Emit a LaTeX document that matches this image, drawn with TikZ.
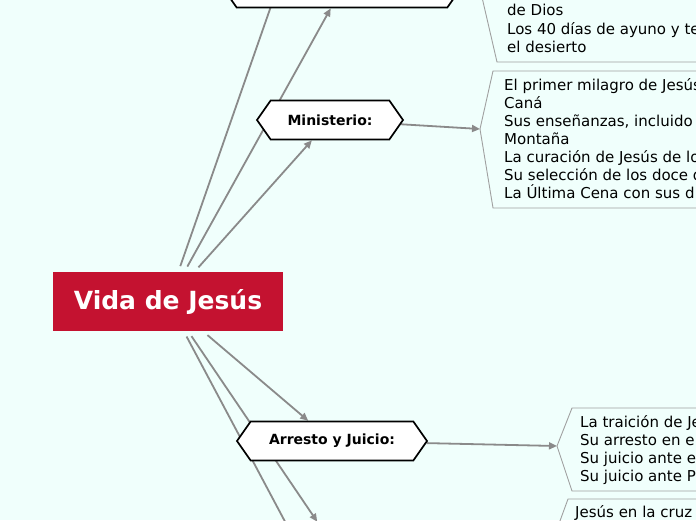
\documentclass[tikz,border=0pt]{standalone}
\usepackage{fontspec}
\setmainfont{DejaVu Sans}
\usetikzlibrary{arrows.meta, shapes.symbols}
\definecolor{MapBack}{RGB}{240, 255, 252}
\definecolor{CoreRed}{RGB}{196, 18, 48}
\definecolor{LinkGrey}{RGB}{138, 138, 138}
\definecolor{FrameGrey}{RGB}{160, 160, 160}
\pgfdeclarelayer{canvas}
\pgfdeclarelayer{links}
\pgfsetlayers{canvas,links,main}

\begin{document}
\begin{tikzpicture}[x=1pt, y=-1pt, >={Triangle[length=8pt, width=7pt]},
    core/.style={fill=CoreRed, text=white, font=\fontsize{25}{30}\selectfont\bfseries, minimum width=230pt, minimum height=59pt, inner sep=0pt},
    hexa/.style={shape=signal, signal to=west and east, signal pointer angle=110, draw=black, line width=1.7pt, fill=white, font=\fontsize{14}{17}\selectfont\bfseries, minimum height=39pt, inner sep=0pt},
    spoke/.style={draw=LinkGrey, line width=1.8pt, shorten <=6pt},
    link/.style={draw=LinkGrey, line width=1.8pt},
    note/.style={align=left, anchor=north west, inner sep=0pt, font=\fontsize{15}{18}\selectfont, execute at begin node=\strut},
    frame/.style={draw=FrameGrey, line width=0.9pt}
  ]
  \useasboundingbox (0,0) rectangle (696,520);
  \begin{pgfonlayer}{canvas}
    \fill[MapBack] (0,0) rectangle (696,520);
  \end{pgfonlayer}

  % centre and branches
  \node[core] (vida) at (168,301.5) {Vida de Jesús};
  \node[hexa, minimum width=238pt] (topHex) at (342,-12) {};
  \node[hexa, minimum width=146pt] (minHex) at (330,120) {Ministerio:};
  \node[hexa, minimum width=190pt] (arrHex) at (332,441) {Arresto y Juicio:};
  \node[hexa, minimum width=190pt] (cruzHex) at (331,542) {};
  \coordinate (upEnd) at (322,-140);
  \coordinate (downEnd) at (348,640);

  % note boxes
  \coordinate (topTip) at (478,-20);
  \coordinate (minTip) at (480,129);
  \coordinate (arrTip) at (557,446);
  \coordinate (cruzTip) at (553,540);
  \draw[frame] (720,62) -- (497,62) -- (topTip);
  \draw[frame] (720,71) -- (493,71) -- (minTip) -- (493,208) -- (720,208);
  \draw[frame] (720,408) -- (572,408) -- (arrTip) -- (572,491) -- (720,491);
  \draw[frame] (720,499) -- (568,499) -- (cruzTip);

  \node[note] (topNote) at (507,4.4) {de Dios\\Los 40 días de ayuno y te\\el desierto};
  \node[note] (minNote) at (504,77.9) {El primer milagro de Jesús\\Caná\\Sus enseñanzas, incluido\\Montaña\\La curación de Jesús de los\\Su selección de los doce d\\La Última Cena con sus d};
  \node[note] (arrNote) at (580,415.4) {La traición de Je\\Su arresto en e\\Su juicio ante e\\Su juicio ante P};
  \node[note] (cruzNote) at (575,504.4) {Jesús en la cruz};

  \begin{pgfonlayer}{links}
    \draw[spoke] (vida) -- (upEnd);
    \draw[spoke, ->] (vida) -- (topHex);
    \draw[spoke, ->] (vida) -- (minHex);
    \draw[spoke, ->] (vida) -- (arrHex);
    \draw[spoke, ->] (vida) -- (cruzHex);
    \draw[spoke] (vida) -- (downEnd);
    \draw[link, ->] (minHex) -- (minTip);
    \draw[link, ->] (arrHex) -- (arrTip);
  \end{pgfonlayer}
\end{tikzpicture}
\end{document}
